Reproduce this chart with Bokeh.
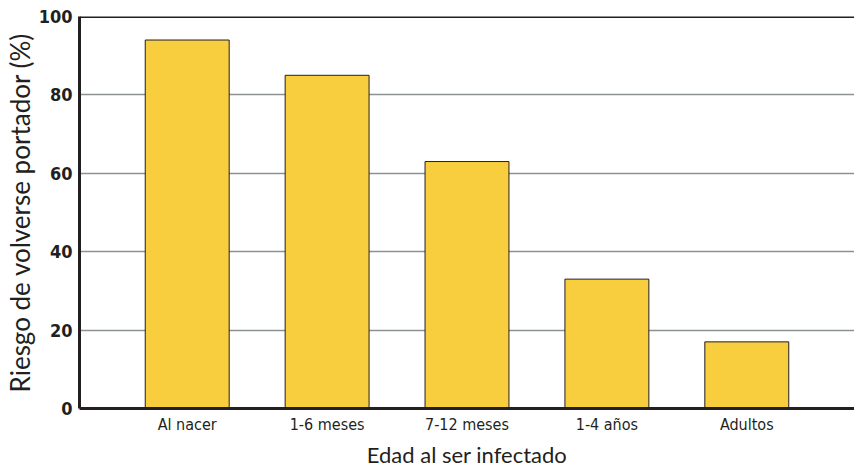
from bokeh.plotting import figure
from bokeh.models import FactorRange, Range1d, Span, FixedTicker
from bokeh.embed import file_html
from bokeh.resources import INLINE

categories = ["Al nacer", "1-6 meses", "7-12 meses", "1-4 años", "Adultos"]
riesgo = [94, 85, 63, 33, 17]
y_ticks = [0, 20, 40, 60, 80, 100]

p = figure(
    x_range=FactorRange(*categories, range_padding=0.27, range_padding_units="absolute"),
    y_range=Range1d(0, 100),
    width=854, height=472,
    min_border_left=79, min_border_right=0, min_border_top=16, min_border_bottom=64,
    output_backend="svg", toolbar_location=None,
)
p.outline_line_color = None
p.background_fill_color = "white"

p.vbar(x=categories, top=riesgo, width=0.6, fill_color="#F9CE3E",
       line_color="#231f20", line_width=1)

p.add_layout(Span(location=100, dimension="width", line_color="#231f20", line_width=3))

p.xgrid.grid_line_color = None
p.ygrid.grid_line_color = "#8c9194"
p.ygrid.grid_line_width = 1.5
p.yaxis.ticker = FixedTicker(ticks=y_ticks)

for ax in (p.xaxis[0], p.yaxis[0]):
    ax.axis_line_color = "#231f20"
    ax.axis_line_width = 3
    ax.major_tick_line_color = None
    ax.minor_tick_line_color = None
    ax.major_tick_out = 0
    ax.major_tick_in = 0
    ax.major_label_text_color = "#231f20"
    ax.axis_label_text_color = "#231f20"
    ax.axis_label_text_font = "Lato"
    ax.axis_label_text_font_style = "normal"

p.yaxis.major_label_text_font = "DejaVu Sans Condensed"
p.yaxis.major_label_text_font_style = "bold"
p.yaxis.major_label_text_font_size = "18px"
p.yaxis.major_label_standoff = 7
p.yaxis.axis_label = "Riesgo de volverse portador (%)"
p.yaxis.axis_label_text_font_size = "26px"
p.yaxis.axis_label_standoff = 0

p.xaxis.major_label_text_font = "DejaVu Sans Condensed"
p.xaxis.major_label_text_font_size = "16px"
p.xaxis.major_label_standoff = 6
p.xaxis.axis_label = "Edad al ser infectado"
p.xaxis.axis_label_text_font_size = "22px"
p.xaxis.axis_label_standoff = 4

open("out.html", "w").write(file_html(p, INLINE))
